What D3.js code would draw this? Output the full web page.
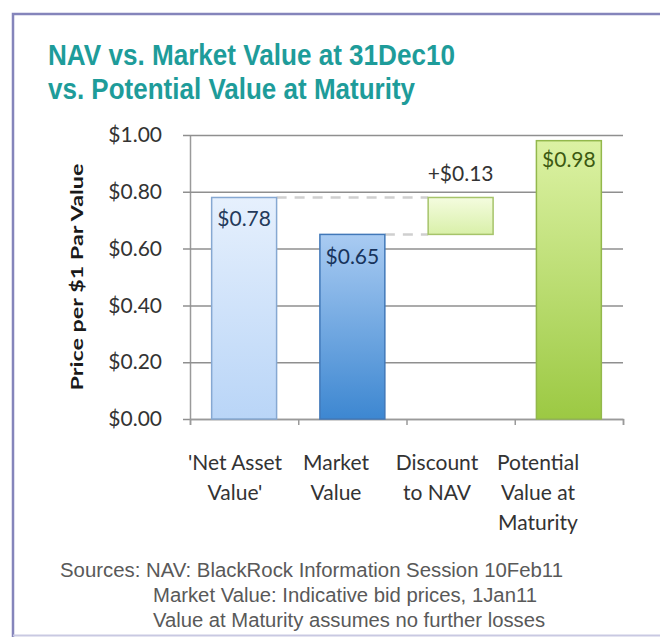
<!DOCTYPE html>
<html lang="en">
<head>
    <meta charset="UTF-8">
    <title>NAV vs. Market Value</title>
    <style>
        body { margin: 0; background: #fff; }
    </style>
</head>
<body>
    <svg id="chart" width="660" height="637"></svg>
    <script src="https://d3js.org/d3.v7.min.js"></script>
    <script>
        // data
        const categories = ["'Net Asset Value'", "Market Value", "Discount to NAV", "Potential Value at Maturity"];
        const catLines = [["'Net Asset", "Value'"], ["Market", "Value"], ["Discount", "to NAV"], ["Potential", "Value at", "Maturity"]];
        const barBase = [0, 0, 0.65, 0];
        const barTop = [0.78, 0.65, 0.78, 0.98];
        const barLabels = ["$0.78", "$0.65", "+$0.13", "$0.98"];
        const yTicks = [0, 0.2, 0.4, 0.6, 0.8, 1.0];
        const titleLines = ["NAV vs. Market Value at 31Dec10", "vs. Potential Value at Maturity"];
        const sources = [
            "Sources: NAV: BlackRock Information Session 10Feb11",
            "Market Value: Indicative bid prices, 1Jan11",
            "Value at Maturity assumes no further losses"
        ];

        const svg = d3.select("#chart");
        const margin = { left: 190, right: 37, top: 135, bottom: 218 };
        const width = 660 - margin.left - margin.right,
            height = 637 - margin.top - margin.bottom;
        const bodyFont = "Lato, 'Open Sans', sans-serif";

        // gradients
        const defs = svg.append("defs");
        const grads = [
            ["g0", "#e6f0fd", "#b9d5f7"],
            ["g1", "#a9cbf2", "#3d87d1"],
            ["g2", "#f4fcdf", "#d9f0a9"],
            ["g3", "#dcf2a4", "#9cc943"]
        ];
        grads.forEach(g => {
            const lg = defs.append("linearGradient").attr("id", g[0])
                .attr("x1", 0).attr("y1", 0).attr("x2", 0).attr("y2", 1);
            lg.append("stop").attr("offset", "0%").attr("stop-color", g[1]);
            lg.append("stop").attr("offset", "100%").attr("stop-color", g[2]);
        });
        const strokes = ["#86a8d2", "#4178b8", "#a6c46a", "#93b84c"];
        const labelColors = ["#243a5a", "#17335c", "#333333", "#3d5a12"];

        // frame
        svg.append("path")
            .attr("d", "M13,637 L13,14 L660,14")
            .attr("fill", "none")
            .attr("stroke", "#8585bb")
            .attr("stroke-width", 2.5);
        svg.append("line")
            .attr("x1", 13).attr("x2", 660).attr("y1", 635.5).attr("y2", 635.5)
            .attr("stroke", "#c9c9e2").attr("stroke-width", 2);

        // title (stretched a bit vertically like the source)
        const titleWidths = [407, 367];
        svg.append("g").selectAll("text").data(titleLines).join("text")
            .attr("transform", (d, i) => `translate(48,${65 + i * 34}) scale(1,1.17)`)
            .attr("textLength", (d, i) => titleWidths[i])
            .attr("lengthAdjust", "spacingAndGlyphs")
            .attr("fill", "#1e9c9a")
            .style("font-family", "'Liberation Sans', Arial, sans-serif")
            .style("font-weight", "bold")
            .style("font-size", "26px")
            .text(d => d);

        const g = svg.append("g").attr("transform", `translate(${margin.left},${margin.top})`);

        const x = d3.scaleBand().domain(categories).range([0, width]).paddingInner(0.4).paddingOuter(0.2);
        const xLab = d3.scaleBand().domain(categories).range([-5.5, 398.5]);
        const xl = d3.scaleLinear().domain([0, categories.length]).range([0, width]);
        const y = d3.scaleLinear().domain([0, 1]).range([height, 0]);

        // grid + y axis
        const yAxis = g.append("g")
            .call(d3.axisLeft(y).tickValues(yTicks).tickFormat(d3.format("$.2f")).tickSizeInner(-width).tickSizeOuter(0).tickPadding(28));
        yAxis.select(".domain").attr("stroke", "#9a9a9a").attr("stroke-width", 1.5);
        yAxis.selectAll(".tick line").attr("stroke", "#8f8f8f").attr("stroke-width", 1.5).attr("x1", -7);
        yAxis.selectAll(".tick text")
            .attr("fill", "#333")
            .style("font-family", bodyFont)
            .style("font-size", "21px");

        // x axis ticks
        const xAxis = g.append("g").attr("transform", `translate(0,${height})`)
            .call(d3.axisBottom(xl).ticks(4).tickSize(6).tickFormat(""));
        xAxis.select(".domain").attr("stroke", "#9a9a9a").attr("stroke-width", 1.5);
        xAxis.selectAll(".tick line").attr("stroke", "#9a9a9a").attr("stroke-width", 1.5);

        // connector dashes
        const dashes = [[0, 2, 0.78], [1, 2, 0.65]];
        g.selectAll(".dash").data(dashes).join("line")
            .attr("x1", d => x(categories[d[0]]) + x.bandwidth())
            .attr("x2", d => x(categories[d[1]]))
            .attr("y1", d => y(d[2])).attr("y2", d => y(d[2]))
            .attr("stroke", "#cfcfcf")
            .attr("stroke-width", 2.5)
            .attr("stroke-dasharray", "10,8");

        // bars
        g.selectAll(".bar").data(categories).join("rect")
            .attr("x", d => x(d))
            .attr("width", x.bandwidth())
            .attr("y", (d, i) => y(barTop[i]))
            .attr("height", (d, i) => y(barBase[i]) - y(barTop[i]))
            .attr("fill", (d, i) => `url(#g${i})`)
            .attr("stroke", (d, i) => strokes[i])
            .attr("stroke-width", 1.5);

        // bar labels
        const labelOffset = [29, 30, -16, 26];
        g.selectAll(".lbl").data(categories).join("text")
            .attr("x", d => x(d) + x.bandwidth() / 2)
            .attr("y", (d, i) => y(barTop[i]) + labelOffset[i])
            .attr("text-anchor", "middle")
            .attr("fill", (d, i) => labelColors[i])
            .style("font-family", bodyFont)
            .style("font-size", "21px")
            .text((d, i) => barLabels[i]);

        // category labels
        const cl = g.selectAll(".cat").data(categories).join("text")
            .attr("text-anchor", "middle")
            .attr("fill", "#333")
            .style("font-family", bodyFont)
            .style("font-size", "21px");
        cl.each(function(d, i) {
            d3.select(this).selectAll("tspan").data(catLines[i]).join("tspan")
                .attr("x", xLab(d) + xLab.bandwidth() / 2)
                .attr("y", (t, j) => height + 51 + j * 30)
                .text(t => t);
        });

        // y axis title
        g.append("text")
            .attr("transform", `translate(${77 - margin.left},${height / 2}) rotate(-90)`)
            .attr("text-anchor", "middle")
            .attr("dy", "0.35em")
            .attr("fill", "#1a1a1a")
            .attr("textLength", 227)
            .attr("lengthAdjust", "spacingAndGlyphs")
            .style("font-family", bodyFont)
            .style("font-weight", "bold")
            .style("font-size", "17px")
            .text("Price per $1 Par Value");

        // sources
        const sourceX = [60, 153, 153];
        const sourceW = [503, 384, 392];
        svg.append("g").selectAll("text").data(sources).join("text")
            .attr("x", (d, i) => sourceX[i])
            .attr("y", (d, i) => 577 + i * 25)
            .attr("textLength", (d, i) => sourceW[i])
            .attr("lengthAdjust", "spacingAndGlyphs")
            .attr("fill", "#595959")
            .style("font-family", "'Liberation Sans', Arial, sans-serif")
            .style("font-size", "20px")
            .text(d => d);
    </script>
</body>
</html>
